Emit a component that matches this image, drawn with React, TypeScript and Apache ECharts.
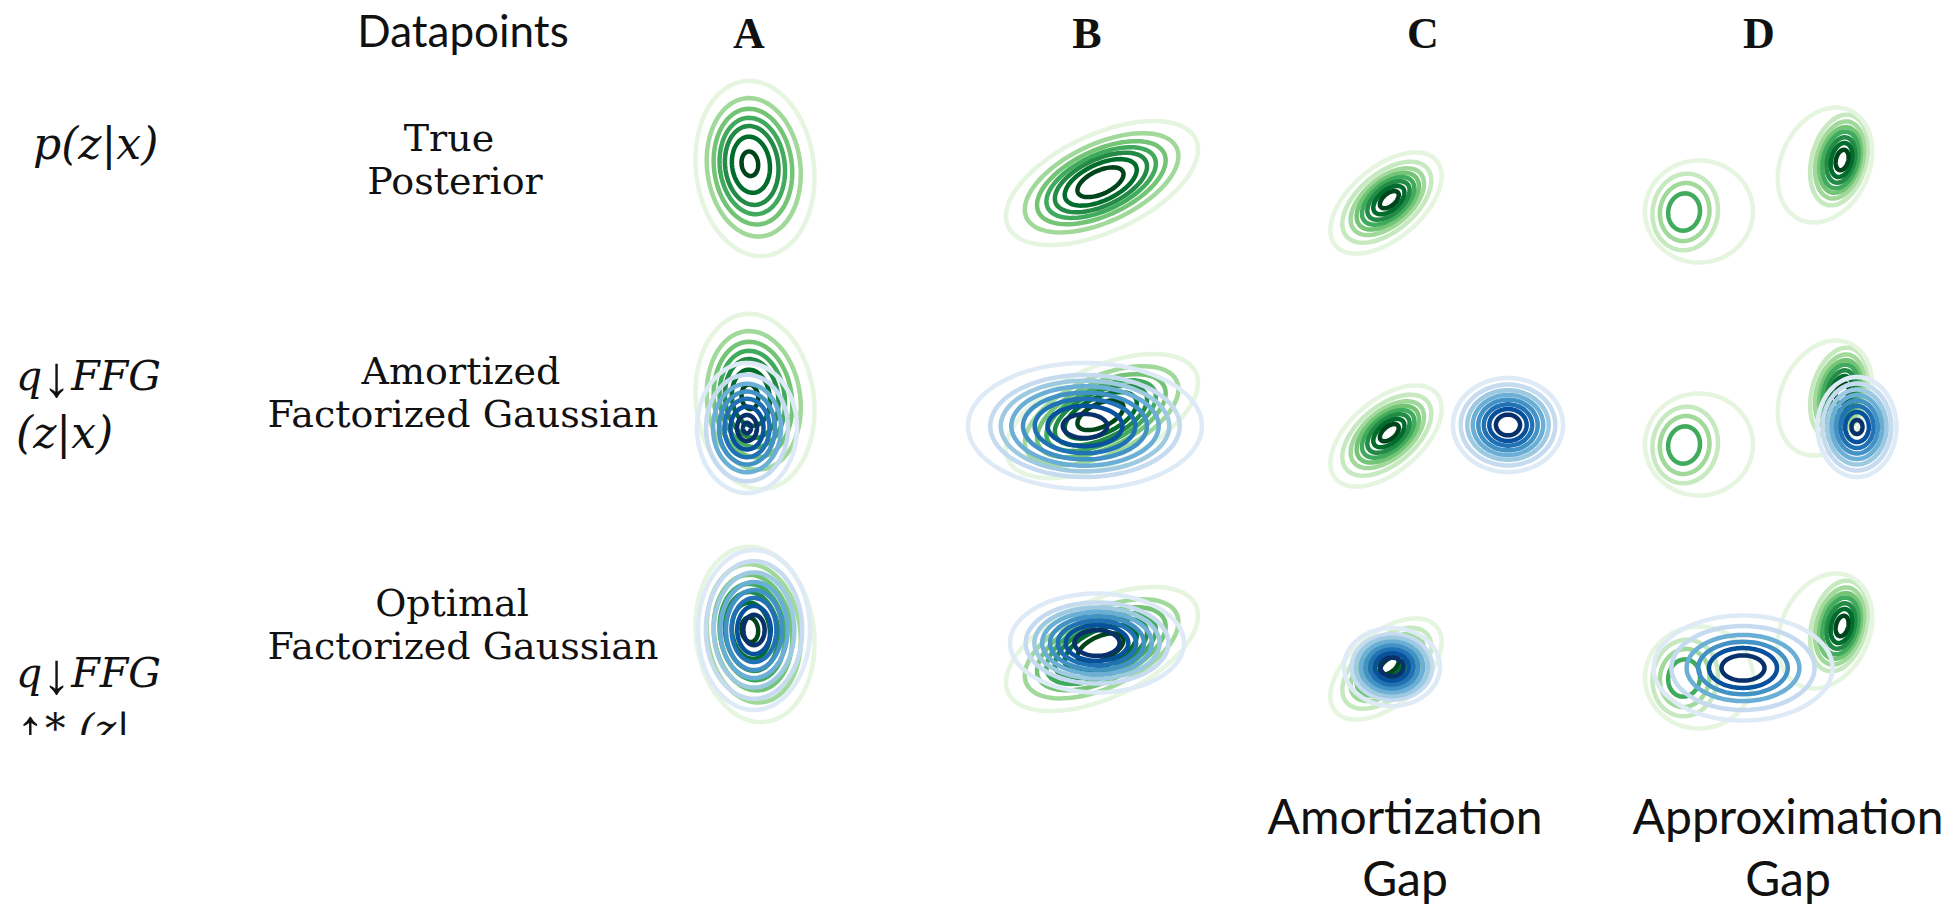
import React, { useEffect, useRef } from "react";
import * as echarts from "echarts";

// ---------- layout ----------
const W = 1954;
const H = 906;
const COLUMN_X = [749, 1087, 1423, 1759];
const ROW_Y = [163, 396, 629];
const PANEL_W = 320; // 10 px per latent unit
const PANEL_H = 230;
const X_RANGE = 16;
const Y_RANGE = 11.5;

// ---------- texts ----------
const DATAPOINTS = ["A", "B", "C", "D"];
const ROW_TITLES = [
  ["True", "Posterior"],
  ["Amortized", "Factorized Gaussian"],
  ["Optimal", "Factorized Gaussian"],
];
const GAP_LABELS = [
  ["Amortization", "Gap"],
  ["Approximation", "Gap"],
];

// ---------- colour maps ----------
const GREENS = ["#f7fcf5", "#e5f5e0", "#c7e9c0", "#a1d99b", "#74c476", "#41ab5d", "#238b45", "#006d2c", "#00441b"];
const BLUES = ["#f7fbff", "#deebf7", "#c6dbef", "#9ecae1", "#6baed6", "#4292c6", "#2171b5", "#08519c", "#08306b"];

// ---------- contour sets (latent units, y up) ----------
type ContourSet = {
  col: number;
  center: number[];
  axes: number[];
  angle: number;
  drift: number[];
  levels: number[];
  shades: number[];
};

const TRUE_POSTERIOR: ContourSet[] = [
  { col: 0, center: [0, 0], axes: [8.8, 5.9], angle: 97, drift: [0.6, -0.55], levels: [0.14, 0.32, 0.45, 0.55, 0.66, 0.79, 1.0], shades: [8, 7, 6, 5, 4, 3, 1] },
  { col: 1, center: [1.3, -1.9], axes: [10.35, 4.85], angle: 25, drift: [0.2, -0.1], levels: [0.24, 0.375, 0.48, 0.57, 0.67, 0.8, 1.0], shades: [8, 7, 6, 5, 4, 3, 1] },
  { col: 2, center: [-3.3, -3.6], axes: [6.6, 3.6], angle: 40, drift: [-0.4, -0.4], levels: [0.17, 0.28, 0.38, 0.47, 0.56, 0.66, 0.8, 1.0], shades: [8, 7, 6, 5, 4, 3, 2, 1] },
  // D: left (weaker) mode and its outer halo
  { col: 3, center: [-7.6, -4.9], axes: [5.2, 4.4], angle: 80, drift: [0.3, 0], levels: [0.36, 0.56, 0.74], shades: [5, 3, 2] },
  { col: 3, center: [-6.0, -4.85], axes: [5.4, 5.1], angle: 0, drift: [0, 0], levels: [1.0], shades: [1] },
  // D: right (stronger) mode and its outer halo
  { col: 3, center: [8.4, 0.3], axes: [5.8, 3.4], angle: 75, drift: [-0.5, 0], levels: [0.18, 0.3, 0.4, 0.5, 0.58, 0.68, 0.8], shades: [8, 7, 6, 5, 4, 3, 2] },
  { col: 3, center: [6.6, -0.2], axes: [6.0, 4.4], angle: 65, drift: [0, 0], levels: [1.0], shades: [1] },
];

const AMORTIZED_FFG: ContourSet[] = [
  { col: 0, center: [-0.2, -3.2], axes: [5.0, 6.5], angle: 0, drift: [0, 0], levels: [0.08, 0.2, 0.33, 0.45, 0.56, 0.68, 0.82, 1.0], shades: [8, 8, 7, 6, 5, 4, 2, 1] },
  { col: 1, center: [-0.2, -3.0], axes: [11.7, 6.3], angle: 0, drift: [0, 0], levels: [0.19, 0.32, 0.43, 0.53, 0.63, 0.72, 0.81, 1.0], shades: [8, 7, 6, 5, 4, 3, 2, 1] },
  { col: 2, center: [8.5, -2.9], axes: [5.5, 4.7], angle: 0, drift: [0, 0], levels: [0.22, 0.34, 0.44, 0.54, 0.64, 0.74, 0.86, 1.0], shades: [8, 7, 6, 5, 4, 3, 2, 1] },
  { col: 3, center: [9.8, -3.1], axes: [3.95, 5.0], angle: 0, drift: [0, 0], levels: [0.14, 0.3, 0.42, 0.53, 0.64, 0.75, 0.87, 1.0], shades: [8, 7, 6, 5, 4, 3, 2, 1] },
];

const OPTIMAL_FFG: ContourSet[] = [
  { col: 0, center: [0.5, -0.1], axes: [5.6, 8.0], angle: 0, drift: [0, 0], levels: [0.19, 0.3, 0.4, 0.5, 0.6, 0.72, 0.86, 1.0], shades: [8, 7, 6, 5, 4, 3, 2, 1] },
  { col: 1, center: [1.0, -1.4], axes: [8.7, 4.95], angle: 0, drift: [0, 0], levels: [0.26, 0.36, 0.45, 0.54, 0.63, 0.72, 0.82, 1.0], shades: [8, 7, 6, 5, 4, 3, 2, 1] },
  { col: 2, center: [-3.1, -3.8], axes: [4.8, 3.9], angle: 0, drift: [0, 0], levels: [0.24, 0.35, 0.45, 0.55, 0.65, 0.75, 0.84, 1.0], shades: [8, 7, 6, 5, 4, 3, 2, 1] },
  { col: 3, center: [-1.6, -3.9], axes: [8.95, 5.25], angle: 0, drift: [0, 0], levels: [0.24, 0.38, 0.5, 0.63, 0.8, 1.0], shades: [8, 7, 5, 4, 2, 1] },
];

const ROW_APPROX: (ContourSet[] | null)[] = [null, AMORTIZED_FFG, OPTIMAL_FFG];

const LINE_W = 4.5;

function ringData(sets: ContourSet[], col: number) {
  const out: number[][] = [];
  sets
    .filter((s) => s.col === col)
    .forEach((s) => {
      for (let i = s.levels.length - 1; i >= 0; i--) {
        out.push([s.center[0], s.center[1], s.axes[0], s.axes[1], s.angle, s.levels[i], s.shades[i], s.drift[0], s.drift[1]]);
      }
    });
  return out;
}

function makeRender(palette: string[]) {
  return (params: any, api: any) => {
    const cx = api.value(0);
    const cy = api.value(1);
    const a = api.value(2);
    const b = api.value(3);
    const th = (api.value(4) * Math.PI) / 180;
    const L = api.value(5);
    const shade = api.value(6);
    const dx = api.value(7);
    const dy = api.value(8);
    const pts: number[][] = [];
    const N = 90;
    for (let k = 0; k < N; k++) {
      const t = (2 * Math.PI * k) / N;
      const u = a * L * Math.cos(t);
      const v = b * L * Math.sin(t);
      const x = cx + dx * L + u * Math.cos(th) - v * Math.sin(th);
      const y = cy + dy * L + u * Math.sin(th) + v * Math.cos(th);
      pts.push(api.coord([x, y]));
    }
    return {
      type: "polygon",
      shape: { points: pts },
      style: { fill: "none", stroke: palette[shade], lineWidth: LINE_W },
    };
  };
}

function text(x: number, y: number, str: string, font: string, align = "center", z = 10) {
  return {
    type: "text",
    x,
    y,
    z,
    style: {
      text: str,
      font,
      fill: "#111111",
      align,
      verticalAlign: "middle",
      textAlign: align,
      textVerticalAlign: "middle",
    },
  };
}

const MATH_FONT = 'italic 41px "DejaVu Serif", serif';
const ARROW_FONT = '58px "Liberation Serif", serif';

function mathText(x: number, y: number, parts: string[][]) {
  // parts: [kind, text] where kind is "m" (italic math) or "a" (arrow)
  const str = parts.map(([k, t]) => `{${k}|${t}}`).join("");
  return {
    type: "text",
    x,
    y,
    z: 10,
    style: {
      text: str,
      fill: "#111111",
      align: "left",
      verticalAlign: "middle",
      textAlign: "left",
      textVerticalAlign: "middle",
      rich: {
        m: { font: MATH_FONT, fill: "#111111" },
        a: { font: ARROW_FONT, fill: "#111111" },
      },
    },
  };
}

export default function App() {
  const ref = useRef<HTMLDivElement>(null);

  useEffect(() => {
    if (!ref.current) return;
    const chart = echarts.init(ref.current, null, { renderer: "svg" });

    const grids: any[] = [];
    const xAxes: any[] = [];
    const yAxes: any[] = [];
    const series: any[] = [];

    for (let r = 0; r < 3; r++) {
      for (let c = 0; c < 4; c++) {
        const gi = r * 4 + c;
        grids.push({
          left: COLUMN_X[c] - PANEL_W / 2,
          top: ROW_Y[r] - PANEL_H / 2,
          width: PANEL_W,
          height: PANEL_H,
          show: false,
        });
        xAxes.push({ type: "value", gridIndex: gi, min: -X_RANGE, max: X_RANGE, show: false });
        yAxes.push({ type: "value", gridIndex: gi, min: -Y_RANGE, max: Y_RANGE, show: false });
        series.push({
          type: "custom",
          name: `true-${DATAPOINTS[c]}-${r}`,
          xAxisIndex: gi,
          yAxisIndex: gi,
          z: 2,
          silent: true,
          clip: false,
          renderItem: makeRender(GREENS),
          data: ringData(TRUE_POSTERIOR, c),
        });
        const approx = ROW_APPROX[r];
        if (approx) {
          series.push({
            type: "custom",
            name: `ffg-${DATAPOINTS[c]}-${r}`,
            xAxisIndex: gi,
            yAxisIndex: gi,
            z: 3,
            silent: true,
            clip: false,
            renderItem: makeRender(BLUES),
            data: ringData(approx, c),
          });
        }
      }
    }

    const SANS = '"Lato", "Open Sans", sans-serif';
    const SERIF = '"DejaVu Serif", serif';
    const graphics: any[] = [];
    graphics.push(text(463, 30, "Datapoints", `44px ${SANS}`));
    DATAPOINTS.forEach((d, i) => graphics.push(text(COLUMN_X[i], 33, d, `bold 44px "Liberation Serif", serif`)));

    const titleX = [
      [449, 455],
      [461, 463],
      [452, 463],
    ];
    const titleY = [
      [138, 181],
      [371, 414],
      [603, 646],
    ];
    ROW_TITLES.forEach((lines, r) =>
      lines.forEach((l, k) => graphics.push(text(titleX[r][k], titleY[r][k], l, `38px ${SERIF}`)))
    );

    graphics.push(text(33, 143, "p(z|x)", 'italic 44px "DejaVu Serif", serif', "left"));
    graphics.push(mathText(16, 376, [["m", "q"], ["a", "↓"], ["m", "FFG"]]));
    graphics.push(text(16, 432, "(z|x)", 'italic 44px "DejaVu Serif", serif', "left"));
    graphics.push(mathText(16, 673, [["m", "q"], ["a", "↓"], ["m", "FFG"]]));
    graphics.push(mathText(16, 729, [["a", "↑"], ["m", "* (z|"]]));
    // the third math label is cut off in the original figure
    graphics.push({ type: "rect", z: 50, shape: { x: 0, y: 735, width: 260, height: 60 }, style: { fill: "#ffffff" } });

    const gapX = [1405, 1788];
    GAP_LABELS.forEach((lines, i) => {
      graphics.push(text(gapX[i], 815, lines[0], `48px ${SANS}`));
      graphics.push(text(gapX[i], 877, lines[1], `48px ${SANS}`));
    });

    chart.setOption({
      animation: false,
      backgroundColor: "#ffffff",
      grid: grids,
      xAxis: xAxes,
      yAxis: yAxes,
      series,
      graphic: { elements: graphics },
    });

    return () => chart.dispose();
  }, []);

  return <div ref={ref} style={{ position: "absolute", left: 0, top: 0, width: W, height: H }} />;
}
